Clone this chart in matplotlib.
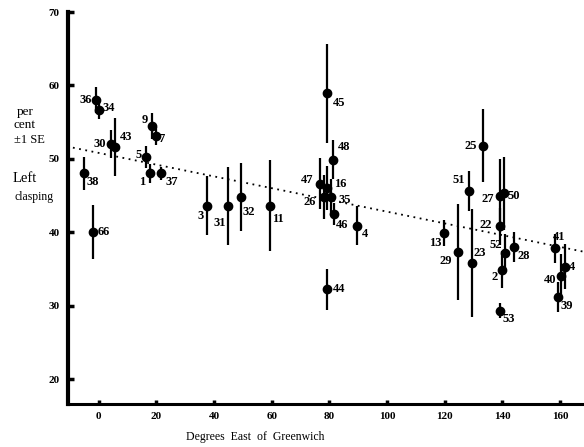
import numpy as np
import matplotlib
matplotlib.use('Agg')
import matplotlib.pyplot as plt

# site number, longitude (deg E), per cent left clasping, standard error
sites = ['36', '34', '30', '43', '9', '7', '5', '1', '37', '38', '66',
         '3', '31', '32', '11', '45', '48', '47', '16', '26', '35', '46', '4', '44',
         '25', '51', '27', '50', '22', '13', '29', '23', '52', '2', '28', '53',
         '41', '4', '40', '39']
longitude = [-1.1, 0.0, 4.1, 5.5, 18.3, 19.7, 16.2, 17.6, 21.7, -5.2, -2.1,
             37.6, 44.8, 49.3, 59.3, 79.3, 81.4, 76.6, 79.3, 78.0, 80.7, 81.7, 89.7, 79.3,
             133.4, 128.3, 139.3, 140.7, 139.3, 119.7, 124.5, 129.3, 141.0, 139.7, 144.1, 139.3,
             158.3, 161.7, 160.3, 159.3]
percent = [58.0, 56.7, 52.0, 51.6, 54.5, 53.1, 50.3, 48.0, 48.0, 48.0, 40.0,
           43.6, 43.6, 44.8, 43.6, 58.9, 49.9, 46.6, 46.0, 44.8, 44.8, 42.5, 40.9, 32.2,
           51.8, 45.6, 45.0, 45.3, 40.8, 39.9, 37.3, 35.8, 37.2, 34.9, 38.0, 29.3,
           37.8, 35.3, 34.1, 31.2]
se = [1.8, 1.3, 1.9, 3.9, 1.8, 1.2, 1.5, 1.3, 0.9, 2.2, 3.7,
      4.0, 5.3, 4.6, 6.2, 6.8, 2.6, 3.5, 3.0, 3.0, 2.5, 1.5, 2.7, 2.8,
      5.0, 2.7, 5.0, 5.0, 2.5, 1.8, 6.5, 7.3, 2.5, 2.5, 2.0, 1.0,
      2.0, 3.1, 3.0, 2.0]

# dotted trend line
trend_intercept = 50.8
trend_slope = -0.08
trend_x = [-9.0, 168.0]

xticks = [0, 20, 40, 60, 80, 100, 120, 140, 160]
yticks = [20, 30, 40, 50, 60, 70]

# where each site number sits relative to its point (pixels, alignment)
label_offsets = [(-4, 0, 'right'), (4, 2, 'left'), (-5, 0, 'right'), (5, 10, 'left'),
                 (-4, 6, 'right'), (3, -3, 'left'), (-4, 2, 'right'), (-4, -9, 'right'),
                 (4, -9, 'left'), (3, -9, 'left'), (5, 0, 'left'),
                 (-3, -10, 'right'), (-2, -17, 'right'), (2, -15, 'left'), (2, -13, 'left'),
                 (5, -10, 'left'), (4, 13, 'left'), (-6, 4, 'right'), (7, 4, 'left'),
                 (-8, -5, 'right'), (7, -3, 'left'), (2, -11, 'left'), (4, -8, 'left'),
                 (5, 0, 'left'),
                 (-6, 0, 'right'), (-4, 11, 'right'), (-6, -3, 'right'), (3, -3, 'left'),
                 (-8, 1, 'right'), (-2, -10, 'right'), (-6, -9, 'right'), (2, 10, 'left'),
                 (-3, 8, 'right'), (-4, -7, 'right'), (3, -9, 'left'), (2, -8, 'left'),
                 (-2, 11, 'left'), (4, 0, 'left'), (-5, -4, 'right'), (2, -9, 'left')]

serif = ['Liberation Serif', 'DejaVu Serif']

fig = plt.figure(figsize=(5.84, 4.47), dpi=100)
ax = fig.add_axes([68 / 584, 1 - 404 / 447, 1 - 68 / 584, (404 - 12) / 447])

ax.errorbar(longitude, percent, yerr=se, fmt='o', color='black', ms=6,
            elinewidth=1.6, capsize=0, zorder=3)

tx = np.array(trend_x)
ax.plot(tx, trend_intercept + trend_slope * tx, color='black', lw=1.3,
        linestyle=(0, (1, 2.5)), zorder=2)

for name, lon, p, (dx, dy, ha) in zip(sites, longitude, percent, label_offsets):
    ax.annotate(name, (lon, p), xytext=(dx, dy), textcoords='offset pixels',
                ha=ha, va='center', fontsize=9, fontweight='bold',
                family=serif, annotation_clip=False)

ax.set_xlim(-10.7, 168.3)
ax.set_ylim(16.6, 70)
ax.set_xticks(xticks)
ax.set_yticks(yticks)
ax.set_xticklabels([str(v) for v in xticks], family=serif, fontsize=8, fontweight='bold')
ax.set_yticklabels([str(v) for v in yticks], family=serif, fontsize=8, fontweight='bold')
ax.tick_params(axis='y', direction='in', length=4, width=2.5, pad=6)
ax.tick_params(axis='x', direction='in', length=3, width=2.5, pad=6)

for side in ['top', 'right']:
    ax.spines[side].set_visible(False)
ax.spines['left'].set_linewidth(3)
ax.spines['bottom'].set_linewidth(2.2)

fig.text(25 / 584, 1 - 112 / 447, 'per', ha='center', va='center', family=serif, fontsize=9.5)
fig.text(25 / 584, 1 - 125 / 447, 'cent', ha='center', va='center', family=serif, fontsize=9.5)
fig.text(29 / 584, 1 - 140 / 447, '±1 SE', ha='center', va='center', family=serif, fontsize=9)
fig.text(25 / 584, 1 - 179 / 447, 'Left', ha='center', va='center', family=serif, fontsize=10.5)
fig.text(34 / 584, 1 - 197 / 447, 'clasping', ha='center', va='center', family=serif, fontsize=8.5)
fig.text(255 / 584, 1 - 437 / 447, 'Degrees  East  of  Greenwich', ha='center', va='center',
         family=serif, fontsize=8.5)

fig.savefig('out.png', dpi=100)
